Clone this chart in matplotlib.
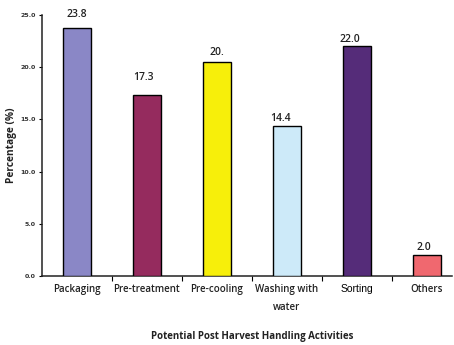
import matplotlib
matplotlib.use("Agg")
import matplotlib.pyplot as plt
from matplotlib.ticker import FixedLocator

categories = ["Packaging", "Pre-treatment", "Pre-cooling", "Washing with\nwater", "Sorting", "Others"]
values = [23.8, 17.3, 20.5, 14.4, 22.0, 2.0]
value_labels = ["23.8", "17.3", "20.", "14.4", "22.0", "2.0"]
yticks = [0, 5, 10, 15, 20, 25]
ytick_labels = ["0.0", "5.0", "10.0", "15.0", "20.0", "25.0"]
colors = ["#8A87C6", "#952B5E", "#F7EF0A", "#CDEAF9", "#552C79", "#F0686F"]

# label offsets (pixels) above each bar top, and small horizontal nudges
label_dy = [13, 18, 9, 7, 7, 8]
label_dx = [0, -4, 0, -7, -7, -3]

W, H = 454, 345
fig = plt.figure(figsize=(W / 100, H / 100), dpi=100)
x0, x1 = 42, 452
y0, y1 = 276, 15
ax = fig.add_axes([x0 / W, 1 - y0 / H, (x1 - x0) / W, (y0 - y1) / H])

xs = list(range(len(categories)))
ax.bar(xs, values, width=0.41, color=colors, edgecolor="black", linewidth=1.0, zorder=3)

for x, v, t, dy, dx in zip(xs, values, value_labels, label_dy, label_dx):
    ax.annotate(t, (x, v), xytext=(dx, dy), textcoords="offset pixels",
                ha="center", va="center", fontsize=7.5, color="#222222",
                family="Open Sans", fontweight="semibold")

ax.set_ylim(0, 25)
ax.set_xlim(-0.5, -0.5 + (x1 - x0) / 70)
ax.set_yticks(yticks)
ax.set_yticklabels(ytick_labels, fontsize=4.5, color="#333333", fontweight="bold")
ax.tick_params(axis="y", length=2.5, width=0.8, pad=2)

# category boundaries carry the ticks, labels sit under each bar
ax.xaxis.set_major_locator(FixedLocator([i + 0.5 for i in range(len(categories) - 1)]))
ax.set_xticklabels([])
ax.tick_params(axis="x", which="major", length=3.5, width=0.8)
ax.set_xticks(xs, minor=True)
ax.set_xticklabels(categories, minor=True, fontsize=7, color="#222222",
                   family="Open Sans", fontweight="semibold", linespacing=1.8)
ax.tick_params(axis="x", which="minor", length=0, pad=6)
for lab in ax.get_xticklabels(minor=True):
    if lab.get_text() == "Sorting":
        lab.set_family("Liberation Sans")
        lab.set_color("black")
        lab.set_fontsize(7.5)
        lab.set_fontweight("normal")

for s in ["top", "right"]:
    ax.spines[s].set_visible(False)
for s in ["left", "bottom"]:
    ax.spines[s].set_linewidth(1.1)
    ax.spines[s].set_color("#222222")

fig.text(12 / W, 1 - 145 / H, "Percentage (%)", rotation=90, ha="center", va="center",
         fontsize=7.3, fontweight="bold", family="Open Sans", color="#222222")
fig.text(252 / W, 1 - 336 / H, "Potential Post Harvest Handling Activities", ha="center",
         va="center", fontsize=7, fontweight="bold", family="Open Sans", color="#222222")

fig.savefig("out.png", dpi=100, facecolor="white")
